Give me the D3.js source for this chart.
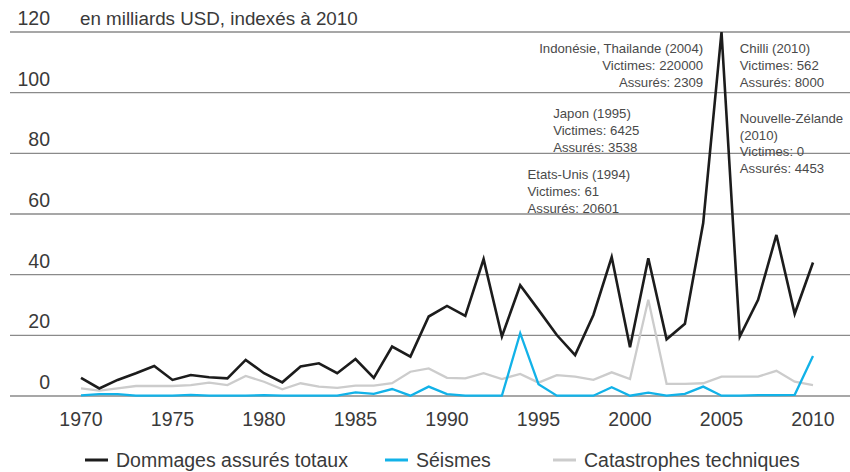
<!DOCTYPE html>
<html>
<head>
<meta charset="utf-8">
<script src="https://cdn.jsdelivr.net/npm/d3@7"></script>
<style>
  body { margin: 0; background: #fff; }
  text { font-family: "Liberation Sans", Arial, sans-serif; fill: #3a3a3a; }
</style>
</head>
<body>
<div id="chart"></div>
<script>
// values, billions USD indexed to 2010
const years = d3.range(1970, 2011);
const totalDamage = [6.0, 2.5, 5.3, 7.5, 9.9, 5.3, 6.9, 6.2, 5.8, 11.9,
  7.5, 4.5, 9.7, 10.8, 7.5, 12.2, 6.0, 16.3, 13.0, 26.2,
  29.7, 26.4, 45.1, 19.6, 36.5, 28.4, 20.1, 13.5, 26.7, 45.8,
  16.1, 45.4, 18.7, 23.8, 57.0, 120.0, 19.6, 31.7, 53.1, 27.1, 44.0];
const earthquakes = [0.2, 0.6, 0.6, 0.1, 0.1, 0.1, 0.4, 0.1, 0.1, 0.1,
  0.3, 0.1, 0.1, 0.1, 0.1, 1.2, 0.7, 2.3, 0.1, 3.1,
  0.6, 0.1, 0.1, 0.1, 20.7, 3.9, 0.1, 0.1, 0.1, 2.9,
  0.1, 1.1, 0.1, 0.7, 3.1, 0.1, 0.1, 0.3, 0.3, 0.4, 13.2];
const technical = [2.5, 1.8, 2.5, 3.3, 3.3, 3.3, 3.6, 4.4, 3.6, 6.6,
  4.7, 2.2, 4.2, 3.1, 2.7, 3.4, 3.4, 4.2, 8.0, 9.1,
  6.0, 5.8, 7.5, 5.6, 7.3, 4.4, 6.9, 6.4, 5.3, 7.8,
  5.6, 31.7, 4.0, 4.0, 4.2, 6.4, 6.4, 6.4, 8.3, 4.7, 3.6];
const yTicks = [0, 20, 40, 60, 80, 100, 120];
const xTicks = [1970, 1975, 1980, 1985, 1990, 1995, 2000, 2005, 2010];

const seriesNames = ["Dommages assurés totaux", "Séismes", "Catastrophes techniques"];
const seriesColors = ["#1c1c1c", "#12b2e8", "#cccccc"];

const notes = [
  {lines: ["Indonésie, Thailande (2004)", "Victimes: 220000", "Assurés: 2309"], year: 2004, value: 113, anchor: "end"},
  {lines: ["Chilli (2010)", "Victimes: 562", "Assurés: 8000"], year: 2006, value: 113, anchor: "start"},
  {lines: ["Japon (1995)", "Victimes: 6425", "Assurés: 3538"], year: 1995.8, value: 91.5, anchor: "start"},
  {lines: ["Nouvelle-Zélande", "(2010)", "Victimes: 0", "Assurés: 4453"], year: 2006, value: 90, anchor: "start"},
  {lines: ["Etats-Unis (1994)", "Victimes: 61", "Assurés: 20601"], year: 1994.4, value: 71.5, anchor: "start"}
];

const width = 850, height = 472;

const svg = d3.select("#chart").append("svg")
  .attr("width", width)
  .attr("height", height);

const x = d3.scaleLinear().domain([1970, 2010]).range([81, 813]);
const y = d3.scaleLinear().domain([0, 120]).range([396, 32]);

// grid lines with labels sitting on top
svg.append("g").selectAll("line")
  .data(yTicks)
  .join("line")
  .attr("x1", 10).attr("x2", width)
  .attr("y1", d => y(d)).attr("y2", d => y(d))
  .attr("stroke", "#8a8a8a")
  .attr("stroke-width", 1.4);

svg.append("g").selectAll("text")
  .data(yTicks)
  .join("text")
  .attr("x", 50)
  .attr("y", d => y(d) - 7)
  .attr("text-anchor", "end")
  .style("font-size", "19.5px")
  .text(d => d);

svg.append("text")
  .attr("x", 80).attr("y", y(120) - 7)
  .style("font-size", "18.8px")
  .text("en milliards USD, indexés à 2010");

// x axis labels
svg.append("g").selectAll("text")
  .data(xTicks)
  .join("text")
  .attr("x", d => x(d))
  .attr("y", 426)
  .attr("text-anchor", "middle")
  .style("font-size", "19.5px")
  .text(d => d);

const line = d3.line()
  .x(d => x(d[0]))
  .y(d => y(d[1]));

[technical, earthquakes, totalDamage].forEach((vals, i) => {
  const idx = 2 - i;
  svg.append("path")
    .datum(years.map((yr, j) => [yr, vals[j]]))
    .attr("d", line)
    .attr("fill", "none")
    .attr("stroke", seriesColors[idx])
    .attr("stroke-width", idx == 0 ? 2.6 : 2.3)
    .attr("stroke-linejoin", "miter");
});

// annotations
notes.forEach(n => {
  const t = svg.append("text")
    .attr("text-anchor", n.anchor)
    .style("font-size", "13.2px")
    .style("fill", "#4a4a4a");
  n.lines.forEach((l, i) => {
    t.append("tspan")
      .attr("x", x(n.year))
      .attr("y", y(n.value) + i * 16.7)
      .text(l);
  });
});

// legend
const legendX = [85, 385, 553];
const legend = svg.append("g").selectAll("g")
  .data(seriesNames)
  .join("g")
  .attr("transform", (d, i) => "translate(" + legendX[i] + ",460)");

legend.append("line")
  .attr("x1", 0).attr("x2", 23)
  .attr("stroke", (d, i) => seriesColors[i])
  .attr("stroke-width", 3);

legend.append("text")
  .attr("x", 31).attr("y", 7)
  .style("font-size", "19.5px")
  .text(d => d);
</script>
</body>
</html>
